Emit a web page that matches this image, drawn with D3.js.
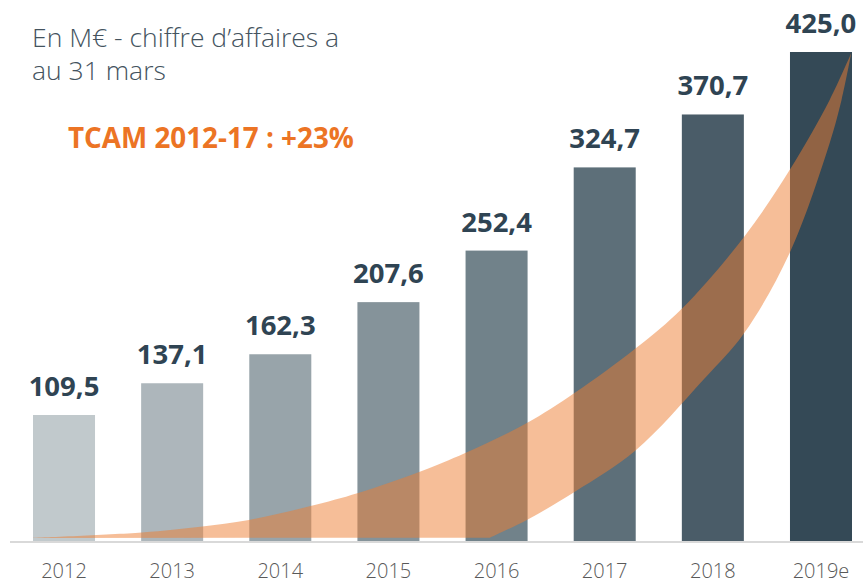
<!DOCTYPE html>
<html>
<head>
<meta charset="utf-8">
<script src="https://cdn.jsdelivr.net/npm/d3@7"></script>
<style>
  html, body { margin: 0; padding: 0; background: #fff; }
  svg { display: block; }
</style>
</head>
<body>
<svg id="chart" width="863" height="583"></svg>
<script>
// Chiffre d'affaires (M€) au 31 mars
const years  = ['2012', '2013', '2014', '2015', '2016', '2017', '2018', '2019e'];
const values = [109.5, 137.1, 162.3, 207.6, 252.4, 324.7, 370.7, 425.0];
const labels = ['109,5', '137,1', '162,3', '207,6', '252,4', '324,7', '370,7', '425,0'];
const barColors = ['#c1c9cc', '#adb6bb', '#98a4aa', '#85939a', '#71828a', '#5d6f79', '#4a5c68', '#344956'];

// Flèche de croissance : bords en [position de barre, valeur]
const arrowUpper = [[-0.33, 2.6], [0.72, 7.4], [1.26, 12.4], [1.71, 18.3], [2.28, 30.4], [2.72, 41.7],
                    [3.29, 60.2], [3.71, 76.5], [4.28, 102.5], [4.72, 128.6], [5.29, 167.7],
                    [5.72, 202.5], [6.29, 264.5], [6.71, 322.4], [7.08, 383.3], [7.28, 424.1]];
const arrowLower = [[7.28, 424.1], [7.19, 383.3], [7.06, 339.8], [6.71, 250.3], [6.29, 180.8],
                    [5.91, 139.9], [5.29, 79.1], [4.72, 42.6], [4.28, 18.3], [3.94, 2.9]];

const title = ['En M€ - chiffre d’affaires a', 'au 31 mars'];
const cagrText = 'TCAM 2012-17 : +23%';

const svg = d3.select('#chart');
const baseY = 541;

const x = d3.scaleBand()
  .domain(years)
  .range([33, 852])
  .paddingInner(0.4265)
  .paddingOuter(0);

const y = d3.scaleLinear()
  .domain([0, 425])
  .range([baseY, 52]);

// position continue pour la flèche (centre des barres)
const xPos = d3.scaleLinear()
  .domain([0, years.length - 1])
  .range([x(years[0]) + x.bandwidth() / 2, x(years[years.length - 1]) + x.bandwidth() / 2]);

// Titre
const t = svg.append('text')
  .attr('x', 32).attr('y', 47)
  .attr('fill', '#44535e')
  .attr('font-family', '"Open Sans", sans-serif')
  .attr('font-weight', 300)
  .attr('font-size', 26.5);
title.forEach((line, i) => {
  t.append('tspan').attr('x', 32).attr('dy', i === 0 ? 0 : 33).text(line);
});

svg.append('text')
  .attr('x', 68).attr('y', 148)
  .attr('fill', '#ec7424')
  .attr('font-family', '"Open Sans", sans-serif')
  .attr('font-weight', 700)
  .attr('font-size', 27.8)
  .text(cagrText);

// Barres
svg.append('g').selectAll('rect')
  .data(values)
  .join('rect')
  .attr('x', (d, i) => x(years[i]))
  .attr('y', d => y(d))
  .attr('width', x.bandwidth())
  .attr('height', d => baseY - y(d))
  .attr('fill', (d, i) => barColors[i]);

// Axe
svg.append('line')
  .attr('x1', 10).attr('x2', 863)
  .attr('y1', baseY + 1).attr('y2', baseY + 1)
  .attr('stroke', '#d9d9d9')
  .attr('stroke-width', 2);

// Flèche orange (semi-transparente)
const edge = d3.line()
  .x(d => xPos(d[0]))
  .y(d => y(d[1]))
  .curve(d3.curveCatmullRom.alpha(0.5));
const arrowPath = edge(arrowUpper) + edge(arrowLower).replace(/^M/, 'L') + 'Z';
svg.append('path')
  .attr('d', arrowPath)
  .attr('fill', '#ed7d31')
  .attr('fill-opacity', 0.5);

// Valeurs
svg.append('g').selectAll('text')
  .data(values)
  .join('text')
  .attr('x', (d, i) => x(years[i]) + x.bandwidth() / 2)
  .attr('y', d => y(d) - 19)
  .attr('text-anchor', 'middle')
  .attr('fill', '#2f4453')
  .attr('font-family', '"Open Sans", sans-serif')
  .attr('font-weight', 700)
  .attr('font-size', 27.5)
  .text((d, i) => labels[i]);

// Années
svg.append('g').selectAll('text')
  .data(years)
  .join('text')
  .attr('x', d => x(d) + x.bandwidth() / 2)
  .attr('y', 578)
  .attr('text-anchor', 'middle')
  .attr('fill', '#595959')
  .attr('font-family', '"Open Sans", sans-serif')
  .attr('font-weight', 300)
  .attr('font-size', 20)
  .text(d => d);
</script>
</body>
</html>
